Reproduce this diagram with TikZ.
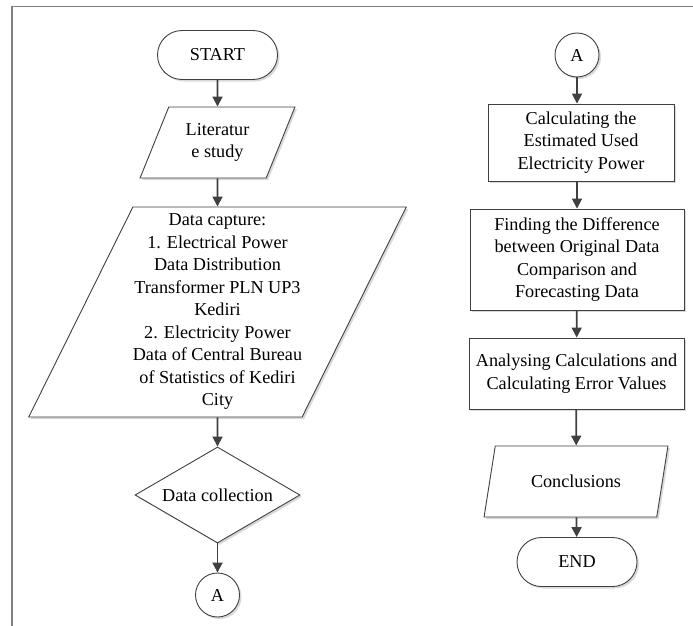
\documentclass[tikz,border=0pt]{standalone}
\usepackage{fontspec}
\setmainfont{Liberation Serif}
\usepackage{tikz}
\usetikzlibrary{arrows.meta,positioning,shapes.geometric,shapes.misc,shadows}

\definecolor{linegray}{RGB}{64,64,64}
\definecolor{framegray}{RGB}{128,128,128}

\begin{document}
\begin{tikzpicture}[x=1pt,y=-1pt,
    every node/.style={font=\fontsize{18.2}{22.5}\selectfont, align=center, inner sep=0pt},
    softshadow/.style={drop shadow={shadow xshift=2pt,shadow yshift=-2pt,opacity=0.15,fill=black}},
    box/.style={draw=linegray, line width=0.9pt, fill=white, softshadow},
    terminal/.style={box, rounded rectangle, minimum width=120pt, minimum height=49pt},
    io/.style={box, trapezium, trapezium left angle=64, trapezium right angle=116, trapezium stretches},
    process/.style={box, rectangle},
    decision/.style={box, diamond, aspect=1.72, minimum width=165pt, minimum height=96pt},
    connector/.style={box, circle, minimum size=44pt},
    flow/.style={draw=linegray, line width=1.8pt, -{Triangle[length=10pt,width=10pt]}}]
  \useasboundingbox (0,0) rectangle (693,626);
  \draw[framegray, line width=1.5pt] (12,626) -- (12,6.5) -- (693,6.5);

  % left column
  \node[terminal] (start) at (217.5,55) {START};
  \node[io, minimum width=155pt, minimum height=71pt] (lit) at (217.5,142.5) {Literatur\\e study};
  \node[io, trapezium left angle=62, trapezium right angle=118, minimum width=375pt, minimum height=210pt]
    (capture) at (217.5,312)
    {Data capture:\\1. Electrical Power\\Data Distribution\\Transformer PLN UP3\\Kediri\\2. Electricity Power\\Data of Central Bureau\\of Statistics of Kediri\\City};
  \node[decision] (collect) at (217.5,495) {Data collection};
  \node[connector] (aout) at (217.5,595) {A};

  % right column
  \node[connector] (ain) at (577,55) {A};
  \node[process, minimum width=186pt, minimum height=77pt] (estimate) at (581,142.5)
    {Calculating the\\Estimated Used\\Electricity Power};
  \node[process, minimum width=214pt, minimum height=101pt] (difference) at (577,259.5)
    {Finding the Difference\\between Original Data\\Comparison and\\Forecasting Data};
  \node[process, minimum width=215pt, minimum height=71pt] (analyse) at (576.5,373.5)
    {Analysing Calculations and\\Calculating Error Values};
  \node[io, minimum width=184pt, minimum height=71pt] (conclude) at (576,481.5) {Conclusions};
  \node[terminal] (finish) at (577,562) {END};

  \draw[flow] (start) -- (lit);
  \draw[flow] (lit) -- (capture);
  \draw[flow] (capture) -- (collect);
  \draw[flow] (collect) -- (aout);

  \draw[flow] (ain) -- (ain |- estimate.north);
  \draw[flow] (estimate.south -| difference) -- (difference);
  \draw[flow] (difference) -- (analyse);
  \draw[flow] (analyse) -- (conclude);
  \draw[flow] (conclude) -- (finish);
\end{tikzpicture}
\end{document}
